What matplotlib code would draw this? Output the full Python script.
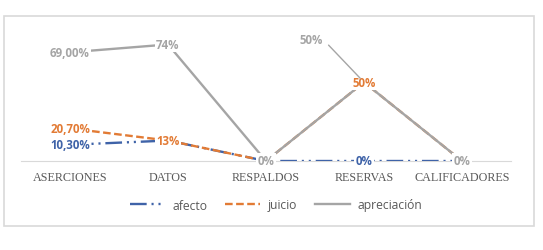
import matplotlib.pyplot as plt
from matplotlib.patches import Rectangle

# chart data
categorias = ["ASERCIONES", "DATOS", "RESPALDOS", "RESERVAS", "CALIFICADORES"]
afecto = [10.3, 13, 0, 0, 0]
juicio = [20.7, 13, 0, 50, 0]
apreciacion = [69, 74, 0, 50, 0]

# visible data labels (None = hidden)
etiq_afecto = ["10,30%", None, None, "0%", None]
etiq_juicio = ["20,70%", "13%", None, "50%", None]
etiq_apreciacion = ["69,00%", "74%", "0%", None, "0%"]

AZUL = "#3F63A8"
NARANJA = "#E27B35"
GRIS = "#A5A5A5"
TEXTO = "#595959"

plt.rcParams['lines.scale_dashes'] = False

W, H = 543, 251
fig = plt.figure(figsize=(W / 100, H / 100), dpi=100)

# outer chart border
fig.patches.append(Rectangle((4 / W, 1 - 227 / H), 530 / W, 210 / H,
                             transform=fig.transFigure, fill=False,
                             edgecolor="#D9D9D9", lw=1.2))

ax = fig.add_axes([21 / W, 1 - 162 / H, 490 / W, 126 / H])
x = list(range(len(categorias)))

l1, = ax.plot(x, afecto, color=AZUL, lw=1.7, zorder=2, label="afecto")
l1.set_dashes([12, 3.5, 1.5, 3.5, 1.5, 3.5])
l2, = ax.plot(x, juicio, color=NARANJA, lw=1.7, zorder=3, label="juicio")
l2.set_dashes([5.5, 2.5])
l3, = ax.plot(x, apreciacion, color=GRIS, lw=1.7, zorder=4, label="apreciación")

ax.set_xlim(-0.5, 4.5)
ax.set_ylim(0, 80)
for s in ["top", "left", "right"]:
    ax.spines[s].set_visible(False)
ax.spines["bottom"].set_color("#D9D9D9")
ax.spines["bottom"].set_zorder(1)
ax.set_yticks([])
ax.set_xticks(x)
ax.set_xticklabels(categorias, family="Liberation Serif", fontsize=8.7, color=TEXTO)
ax.tick_params(axis="x", length=0, pad=7)


def etiquetas(valores, textos, color):
    for i, (v, t) in enumerate(zip(valores, textos)):
        if t is None:
            continue
        ax.text(i, v, t, ha="center", va="center", fontsize=8.3, fontweight="bold",
                color=color, family="Open Sans", zorder=6,
                bbox=dict(boxstyle="square,pad=0.1", fc="white", ec="none"))


etiquetas(afecto, etiq_afecto, AZUL)
etiquetas(juicio, etiq_juicio, NARANJA)
etiquetas(apreciacion, etiq_apreciacion, GRIS)

# apreciación 50% label moved up with a leader line
ax.annotate("50%", xy=(3, apreciacion[3]), xytext=(-38, 31), textcoords="offset points",
            ha="center", va="center", fontsize=8.3, fontweight="bold", color=GRIS,
            family="Open Sans", zorder=6,
            arrowprops=dict(arrowstyle="-", color=GRIS, lw=1, shrinkA=3, shrinkB=4,
                            relpos=(1, 0.5)))

fig.legend(handles=[l1, l2, l3], loc="center", bbox_to_anchor=(276 / W, 1 - 206 / H),
           ncol=3, frameon=False, handlelength=2.9, columnspacing=1.5,
           handletextpad=0.6, prop={"family": "Open Sans", "size": 8.7},
           labelcolor=TEXTO)

fig.savefig("out.png", dpi=100)
